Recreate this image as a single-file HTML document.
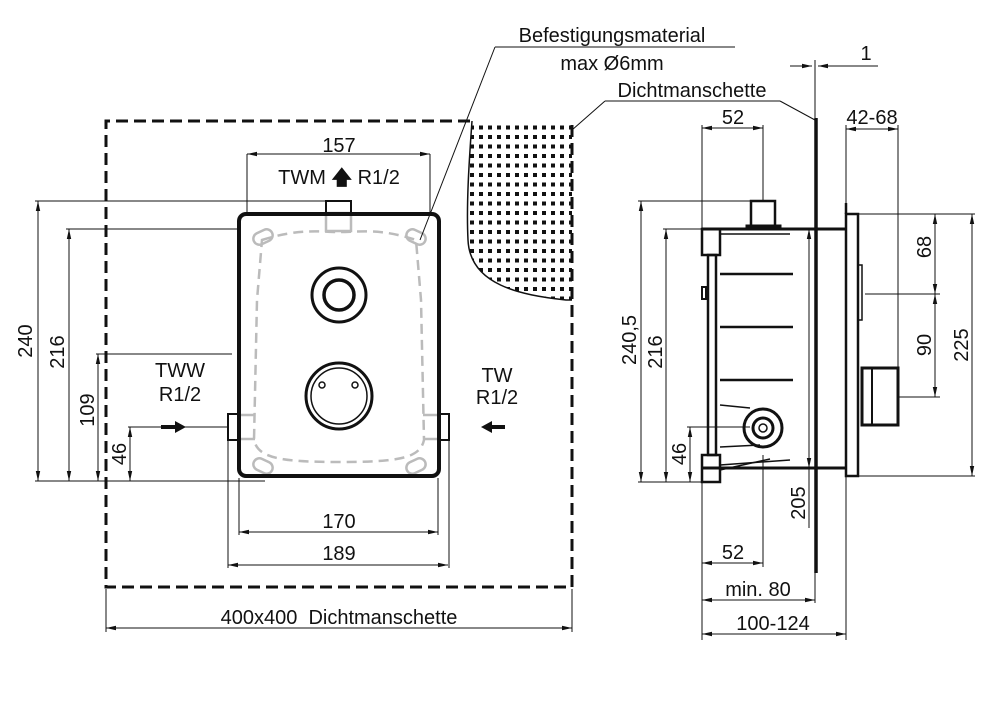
<!DOCTYPE html>
<html><head><meta charset="utf-8"><style>
html,body{margin:0;padding:0;background:#fff;}
svg{display:block;}
text{font-family:"Liberation Sans",sans-serif;fill:#111;}
</style></head><body>
<svg width="1001" height="701" viewBox="0 0 1001 701" xmlns="http://www.w3.org/2000/svg">
<defs>
<marker id="a" viewBox="0 0 10 6" refX="10" refY="3" markerWidth="10" markerHeight="6" markerUnits="userSpaceOnUse" orient="auto-start-reverse"><path d="M0,0.8 L10,3 L0,5.2 Z" fill="#111"/></marker>
<pattern id="dots" width="9" height="9.5" patternUnits="userSpaceOnUse"><rect x="2" y="2" width="4" height="4" fill="#111"/></pattern>
</defs>
<g stroke="#111" fill="none">
<path d="M472,121 L572,121 L572,300 L566,300 C520,295 470,285 468,240 C466,200 470,150 472,121 Z" fill="url(#dots)" stroke="none"/>
<path d="M472,121 C470,150 466,200 468,240 C470,285 520,295 566,300 L572,300" stroke-width="1.5"/>
<path d="M470,121 L106,121 L106,587 L572,587 L572,121" stroke-width="3" stroke-dasharray="12,6"/>
<g stroke="#bbb" stroke-width="2.5">
<path d="M262,240 C300,228 320,232 339,232 C360,232 380,228 416,240 L421,300 L424,440 C420,458 400,462 339,462 C280,462 258,458 254,440 L257,300 Z" stroke-dasharray="10,6"/>
<rect x="326" y="213" width="25" height="18"/>
<rect x="253" y="231" width="20" height="12" rx="6" transform="rotate(-25 263 237)"/>
<rect x="406" y="231" width="20" height="12" rx="6" transform="rotate(25 416 237)"/>
<rect x="253" y="460" width="20" height="12" rx="6" transform="rotate(25 263 466)"/>
<rect x="406" y="460" width="20" height="12" rx="6" transform="rotate(-25 416 466)"/>
<line x1="239" y1="415" x2="255" y2="415"/><line x1="239" y1="439" x2="255" y2="439"/>
<line x1="423" y1="415" x2="439" y2="415"/><line x1="423" y1="439" x2="439" y2="439"/>
</g>
<rect x="239" y="214" width="200" height="262" rx="7" stroke-width="4"/>
<rect x="326" y="201" width="25" height="13" stroke-width="2"/>
<rect x="228" y="414" width="11" height="26" stroke-width="2"/>
<rect x="439" y="414" width="10" height="26" stroke-width="2"/>
<circle cx="339" cy="295" r="27" stroke-width="3"/>
<circle cx="339" cy="295" r="15" stroke-width="3.5"/>
<circle cx="339" cy="396" r="33" stroke-width="3"/>
<circle cx="339" cy="396" r="28" stroke-width="1.5"/>
<circle cx="322" cy="385" r="3" stroke-width="1.5"/><circle cx="355" cy="385" r="3" stroke-width="1.5"/>
<g stroke-width="1">
<line x1="247" y1="154" x2="247" y2="213"/><line x1="430" y1="154" x2="430" y2="212"/>
<line x1="247" y1="154" x2="430" y2="154" marker-start="url(#a)" marker-end="url(#a)"/>
<line x1="35" y1="201" x2="330" y2="201"/>
<line x1="66" y1="229" x2="237" y2="229"/>
<line x1="96" y1="354" x2="232" y2="354"/>
<line x1="128" y1="427" x2="228" y2="427"/>
<line x1="35" y1="481" x2="265" y2="481"/>
<line x1="38" y1="201" x2="38" y2="481" marker-start="url(#a)" marker-end="url(#a)"/>
<line x1="69" y1="229" x2="69" y2="481" marker-start="url(#a)" marker-end="url(#a)"/>
<line x1="98" y1="354" x2="98" y2="481" marker-start="url(#a)" marker-end="url(#a)"/>
<line x1="130" y1="427" x2="130" y2="481" marker-start="url(#a)" marker-end="url(#a)"/>
<line x1="239" y1="478" x2="239" y2="535"/><line x1="438" y1="478" x2="438" y2="535"/>
<line x1="228" y1="440" x2="228" y2="568"/><line x1="449" y1="440" x2="449" y2="568"/>
<line x1="239" y1="532" x2="438" y2="532" marker-start="url(#a)" marker-end="url(#a)"/>
<line x1="228" y1="565" x2="448" y2="565" marker-start="url(#a)" marker-end="url(#a)"/>
<line x1="106" y1="589" x2="106" y2="632"/><line x1="572" y1="589" x2="572" y2="632"/>
<line x1="106" y1="628" x2="572" y2="628" marker-start="url(#a)" marker-end="url(#a)"/>
<line x1="495" y1="47" x2="735" y2="47"/><line x1="495" y1="47" x2="420" y2="240"/>
<line x1="605" y1="101" x2="780" y2="101"/><line x1="605" y1="101" x2="572" y2="130"/><line x1="780" y1="101" x2="815" y2="120"/>
<line x1="790" y1="66" x2="812" y2="66" marker-end="url(#a)"/>
<line x1="878" y1="66" x2="818" y2="66" marker-end="url(#a)"/>
<line x1="815" y1="60" x2="815" y2="120"/>
</g>
<path d="M161,425 L175,425 L175,421 L186,427 L175,433 L175,429 L161,429 Z" fill="#111" stroke="none"/>
<path d="M505,425 L492,425 L492,421 L481,427 L492,433 L492,429 L505,429 Z" fill="#111" stroke="none"/>
<line x1="816" y1="118" x2="816" y2="573" stroke-width="3.5"/>
<line x1="702" y1="229" x2="846" y2="229" stroke-width="3"/>
<line x1="702" y1="468" x2="846" y2="468" stroke-width="3"/>
<rect x="702" y="229" width="18" height="26" stroke-width="2.5"/>
<rect x="708" y="255" width="8" height="200" stroke-width="2.5"/>
<rect x="702" y="455" width="18" height="27" stroke-width="2.5"/>
<rect x="702" y="287" width="4" height="12" stroke-width="2"/>
<g stroke-width="2.5"><line x1="720" y1="274" x2="793" y2="274"/><line x1="720" y1="327" x2="793" y2="327"/><line x1="720" y1="380" x2="793" y2="380"/>
<line x1="720" y1="234" x2="790" y2="234" stroke-width="1.5"/><line x1="720" y1="465" x2="790" y2="460" stroke-width="1.5"/><line x1="720" y1="470" x2="770" y2="459" stroke-width="1.5"/>
<line x1="720" y1="405" x2="750" y2="408" stroke-width="1.5"/><line x1="720" y1="447" x2="760" y2="445" stroke-width="1.5"/>
</g>
<rect x="751" y="201" width="24" height="25" stroke-width="2.5"/>
<rect x="746" y="225" width="35" height="4" fill="#111"/>
<circle cx="763" cy="428" r="19" stroke-width="3"/>
<circle cx="763" cy="428" r="10" stroke-width="3"/>
<circle cx="763" cy="428" r="4" stroke-width="1.5"/>
<line x1="846" y1="203" x2="846" y2="214" stroke-width="2.5"/>
<rect x="846" y="214" width="12" height="262" stroke-width="2.5"/>
<rect x="858" y="265" width="4" height="55" stroke-width="1.5"/>
<rect x="862" y="368" width="36" height="57" stroke-width="3"/>
<line x1="872" y1="368" x2="872" y2="425" stroke-width="2"/>
<g stroke-width="1">
<line x1="702" y1="125" x2="702" y2="229"/><line x1="763" y1="125" x2="763" y2="201"/>
<line x1="702" y1="128" x2="763" y2="128" marker-start="url(#a)" marker-end="url(#a)"/>
<line x1="846" y1="125" x2="846" y2="203"/><line x1="898" y1="125" x2="898" y2="368"/>
<line x1="846" y1="129" x2="898" y2="129" marker-start="url(#a)" marker-end="url(#a)"/>
<line x1="638" y1="201" x2="755" y2="201"/><line x1="663" y1="229" x2="702" y2="229"/>
<line x1="687" y1="427" x2="750" y2="427"/><line x1="638" y1="482" x2="705" y2="482"/>
<line x1="641" y1="201" x2="641" y2="482" marker-start="url(#a)" marker-end="url(#a)"/>
<line x1="666" y1="229" x2="666" y2="482" marker-start="url(#a)" marker-end="url(#a)"/>
<line x1="690" y1="427" x2="690" y2="482" marker-start="url(#a)" marker-end="url(#a)"/>
<line x1="858" y1="214" x2="975" y2="214"/><line x1="865" y1="294" x2="940" y2="294"/>
<line x1="898" y1="397" x2="940" y2="397"/><line x1="858" y1="476" x2="975" y2="476"/>
<line x1="935" y1="214" x2="935" y2="294" marker-start="url(#a)" marker-end="url(#a)"/>
<line x1="935" y1="294" x2="935" y2="397" marker-start="url(#a)" marker-end="url(#a)"/>
<line x1="972" y1="214" x2="972" y2="476" marker-start="url(#a)" marker-end="url(#a)"/>
<line x1="809" y1="229" x2="809" y2="528" marker-start="url(#a)"/>
<line x1="809" y1="440" x2="809" y2="468" marker-end="url(#a)"/>
<line x1="702" y1="482" x2="702" y2="640"/><line x1="763" y1="455" x2="763" y2="567"/>
<line x1="846" y1="476" x2="846" y2="640"/><line x1="815" y1="573" x2="815" y2="603"/>
<line x1="702" y1="563" x2="763" y2="563" marker-start="url(#a)" marker-end="url(#a)"/>
<line x1="702" y1="600" x2="815" y2="600" marker-start="url(#a)" marker-end="url(#a)"/>
<line x1="702" y1="634" x2="846" y2="634" marker-start="url(#a)" marker-end="url(#a)"/>
</g>
</g>
<g font-size="20">
<text x="339" y="152" text-anchor="middle">157</text>
<text x="339" y="184" text-anchor="middle">TWM <tspan font-weight="bold">🡅</tspan> R1/2</text>
<text x="180" y="377" text-anchor="middle">TWW</text>
<text x="180" y="401" text-anchor="middle">R1/2</text>
<text x="497" y="382" text-anchor="middle">TW</text>
<text x="497" y="404" text-anchor="middle">R1/2</text>
<text x="339" y="528" text-anchor="middle">170</text>
<text x="339" y="560" text-anchor="middle">189</text>
<text x="339" y="624" text-anchor="middle">400x400&#160; Dichtmanschette</text>
<text x="612" y="42" text-anchor="middle">Befestigungsmaterial</text>
<text x="612" y="70" text-anchor="middle">max Ø6mm</text>
<text x="692" y="97" text-anchor="middle">Dichtmanschette</text>
<text x="866" y="60" text-anchor="middle">1</text>
<text x="733" y="124" text-anchor="middle">52</text>
<text x="872" y="124" text-anchor="middle">42-68</text>
<text x="733" y="559" text-anchor="middle">52</text>
<text x="758" y="596" text-anchor="middle">min. 80</text>
<text x="773" y="630" text-anchor="middle">100-124</text>
<text transform="translate(32,341) rotate(-90)" text-anchor="middle">240</text>
<text transform="translate(64,352) rotate(-90)" text-anchor="middle">216</text>
<text transform="translate(94,410) rotate(-90)" text-anchor="middle">109</text>
<text transform="translate(126,454) rotate(-90)" text-anchor="middle">46</text>
<text transform="translate(636,340) rotate(-90)" text-anchor="middle">240,5</text>
<text transform="translate(662,352) rotate(-90)" text-anchor="middle">216</text>
<text transform="translate(686,454) rotate(-90)" text-anchor="middle">46</text>
<text transform="translate(805,503) rotate(-90)" text-anchor="middle">205</text>
<text transform="translate(931,247) rotate(-90)" text-anchor="middle">68</text>
<text transform="translate(931,345) rotate(-90)" text-anchor="middle">90</text>
<text transform="translate(968,345) rotate(-90)" text-anchor="middle">225</text>
</g>
</svg>
</body></html>
